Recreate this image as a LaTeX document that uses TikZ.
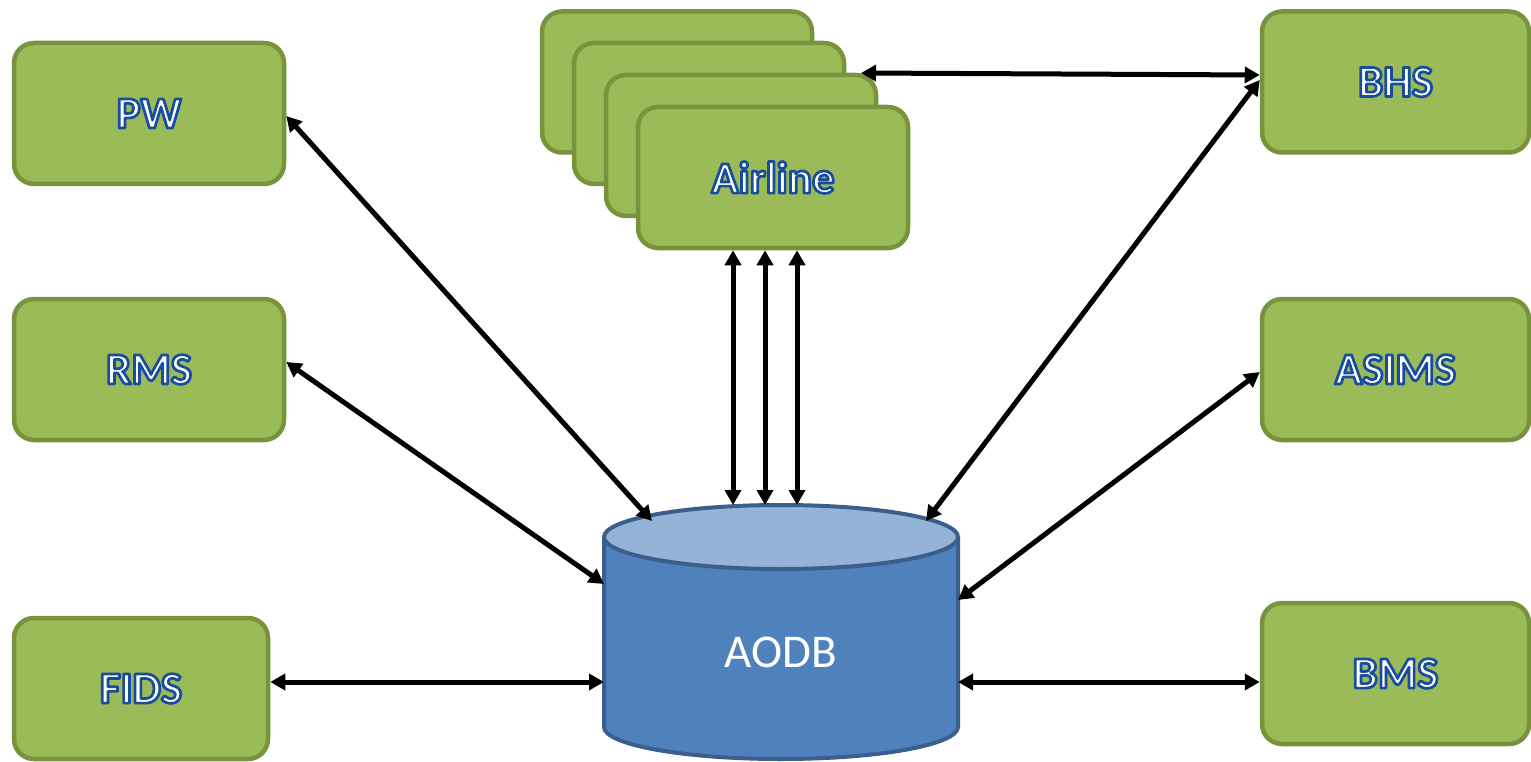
\documentclass[tikz,border=0pt]{standalone}
\usepackage{fontspec}
\setmainfont{Carlito}
\usetikzlibrary{arrows.meta}
\definecolor{boxfill}{HTML}{9BBB59}
\definecolor{boxline}{HTML}{77933C}
\definecolor{cylbody}{HTML}{4F81BD}
\definecolor{cyltop}{HTML}{95B3D7}
\definecolor{cylline}{HTML}{3A5F8C}
% white letters with a dark blue outline (PDF text render mode 2)
\newcommand{\glowtext}[1]{\textcolor{white}{\bfseries\special{pdf:literal direct 0.09 0.30 0.62 RG 2.7 w 1 j 2 Tr}#1\special{pdf:literal direct 0 Tr}}}
\begin{document}
\begin{tikzpicture}[x=1pt,y=-1pt,
  sysbox/.style={draw=boxline,fill=boxfill,line width=4.5pt,rounded corners=20pt,
    minimum width=270pt,minimum height=141pt,inner sep=0pt,
    font=\fontsize{45}{50}\selectfont},
  link/.style={line width=5pt,{Triangle[length=15pt,width=16pt]}-{Triangle[length=15pt,width=16pt]}}]
\useasboundingbox (0,0) rectangle (1531,762);

% left systems
\node[sysbox] (pw) at (149,113.5) {\glowtext{PW}};
\node[sysbox] (rms) at (149,369.5) {\glowtext{RMS}};
\node[sysbox,minimum width=254pt] (fids) at (141,688.5) {\glowtext{FIDS}};
% right systems
\node[sysbox,minimum width=267pt] (bhs) at (1395.5,82) {\glowtext{BHS}};
\node[sysbox,minimum width=267pt] (asims) at (1395.5,369.5) {\glowtext{ASIMS}};
\node[sysbox,minimum width=267pt] (bms) at (1395.5,673.5) {\glowtext{BMS}};
% airline stack
\node[sysbox] (air1) at (677,82) {};
\node[sysbox] (air2) at (709,113.5) {};
\node[sysbox] (air3) at (741,145.5) {};
\node[sysbox] (airline) at (773,177.5) {\glowtext{Airline}};

% AODB cylinder
\fill[cylbody] (604,537) -- (604,727) arc[start angle=180,end angle=360,x radius=177pt,y radius=32pt] -- (958,537) -- cycle;
\draw[cylline,line width=4pt] (604,537) -- (604,727) arc[start angle=180,end angle=360,x radius=177pt,y radius=32pt] -- (958,537);
\draw[cylline,fill=cyltop,line width=4pt] (781,537) ellipse[x radius=177pt,y radius=32pt];
\node[text=white,font=\fontsize{47}{50}\selectfont] (aodb) at (781,652) {AODB};

% connector ends on the cylinder
\coordinate (pwend) at (652,521);
\coordinate (rmsend) at (604,584);
\coordinate (fidsend) at (604,682);
\coordinate (aendA) at (733,505);
\coordinate (aendB) at (765,505);
\coordinate (aendC) at (797,505);
\coordinate (bhsend) at (926,521);
\coordinate (asimsend) at (958,600);
\coordinate (bmsend) at (958,682);
\coordinate (air3corner) at (861,73);

% connectors
\draw[link] ([yshift=-2.5pt]pw.east) -- (pwend);
\draw[link] ([yshift=7.5pt]rms.east) -- (rmsend);
\draw[link] (fids.east |- fidsend) -- (fidsend);
\draw[link] (airline.south -| aendA) -- (aendA);
\draw[link] (airline.south -| aendB) -- (aendB);
\draw[link] (airline.south -| aendC) -- (aendC);
\draw[link] (air3corner) -- ([yshift=7pt]bhs.west);
\draw[link] ([yshift=2pt]bhs.west) -- (bhsend);
\draw[link] ([yshift=-2.5pt]asims.west) -- (asimsend);
\draw[link] (bms.west |- bmsend) -- (bmsend);
\end{tikzpicture}
\end{document}
